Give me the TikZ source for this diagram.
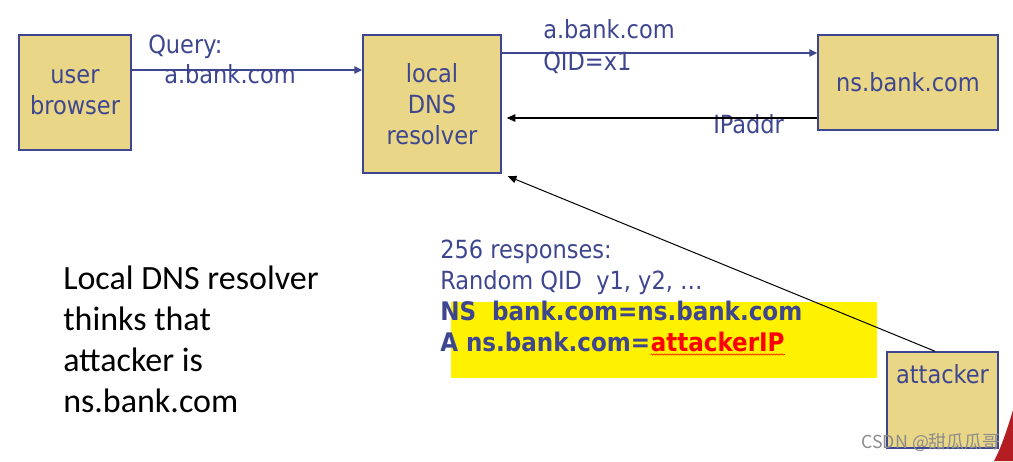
\documentclass[tikz,border=0pt]{standalone}
\usepackage{fontspec}
\setmainfont{DejaVu Sans Condensed}
\newfontfamily\notefont{Carlito}
\newfontfamily\cjkfont{Noto Sans CJK SC}
\usetikzlibrary{arrows.meta,decorations.pathmorphing}
\definecolor{slidenavy}{RGB}{62,70,143}
\definecolor{boxtan}{RGB}{233,214,134}
\definecolor{markred}{RGB}{255,0,0}
\definecolor{cornerred}{RGB}{180,30,35}
\newdimen\pxu \pxu=0.75pt
\begin{document}
\begin{tikzpicture}[x=0.75pt, y=-0.75pt,
    host/.style={draw=slidenavy, line width=1.1pt, fill=boxtan, inner sep=0pt, align=center,
                 font=\fontsize{18.75}{23.25}\selectfont, text=slidenavy},
    msg/.style={font=\fontsize{18.75}{23.25}\selectfont, text=slidenavy, inner sep=0pt, anchor=base west},
    bold msg/.style={msg, font=\fontsize{19.2}{23.25}\selectfont\bfseries},
    note/.style={font=\notefont\fontsize{25.5}{31}\selectfont, inner sep=0pt, anchor=base west},
    navy arrow/.style={draw=slidenavy, line width=1.1pt, -{Triangle[length=6pt,width=5.6pt]}},
    black arrow/.style={draw=black, line width=1pt, -{Triangle[length=6.5pt,width=5.6pt]}}]
  \useasboundingbox (0,0) rectangle (1013,461);
  % hosts
  \node[host, minimum width=112\pxu, minimum height=115\pxu] (browser) at (75,92.5) {user\\browser};
  \node[host, minimum width=138\pxu, minimum height=138\pxu] (resolver) at (432,104) {local\\DNS\\resolver};
  \node[host, minimum width=180\pxu, minimum height=95\pxu] (nsbank) at (908,82.5) {ns.bank.com};
  \node[host, minimum width=111\pxu, minimum height=96\pxu] (attacker) at (942.5,400) {};
  \node[msg, anchor=base] (attackername) at (942.5,383) {attacker};
  % forged answers
  \fill[yellow] (451,302) rectangle (877,378);
  \node[msg] (resp) at (440,258) {256 responses:};
  \node[msg] (qids) at (440,289) {Random QID\ \ y1, y2, …};
  \node[bold msg] (nsrec) at (440,320) {NS\ \ bank.com=ns.bank.com};
  \node[bold msg] (arec) at (440,351) {A ns.bank.com=};
  \node[bold msg, text=markred] (fakeip) at (arec.base east) {attackerIP};
  \draw[markred, line width=0.4pt, decorate, decoration={snake, amplitude=0.5pt, segment length=2pt}]
    ([yshift=-2.6pt]fakeip.base west) -- ([yshift=-2.6pt]fakeip.base east);
  % messages
  \node[msg] (query) at (148,53) {Query:};
  \node[msg] (qname) at (164,83) {a.bank.com};
  \node[msg] (fwdname) at (543,38) {a.bank.com};
  \node[msg] (fwdqid) at (543,70) {QID=x1};
  \node[msg] (reply) at (713,133) {IPaddr};
  \draw[navy arrow] (browser.east |- 0,70) -- (resolver.west |- 0,70);
  \draw[navy arrow] (resolver.east |- 0,53) -- (nsbank.west |- 0,53);
  \draw[black arrow, shorten >=3.75pt] (nsbank.west |- 0,118) -- (resolver.east |- 0,118);
  \draw[black arrow, line width=0.75pt, shorten >=4.9pt] (attacker.north -| 935,0) -- (resolver.south east);
  % conclusion
  \foreach \line [count=\i from 0] in {Local DNS resolver, thinks that, attacker is, ns.bank.com}{
    \node[note] (note\i) at (63,289+41.3*\i) {\line};
  }
  \node[font=\cjkfont\fontsize{13.4}{15}\selectfont, text=black!45, inner sep=0pt, anchor=base west] (mark) at (861,448) {CSDN @甜瓜瓜哥};
  \fill[cornerred] (1013,410) .. controls (1007,430) and (1001,448) .. (994,461) -- (1013,461) -- cycle;
\end{tikzpicture}
\end{document}
